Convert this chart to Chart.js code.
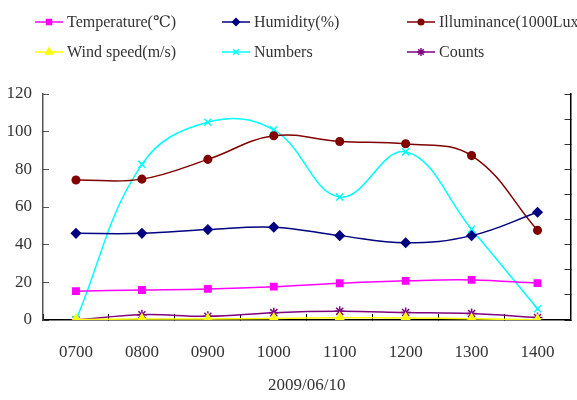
<!DOCTYPE html>
<html>
<head>
<meta charset="utf-8">
<script src="https://cdn.jsdelivr.net/npm/chart.js@4/dist/chart.umd.min.js"></script>
<style>
  html, body { margin: 0; padding: 0; background: #fff; }
  #wrap { width: 577px; height: 400px; }
</style>
</head>
<body>
<div id="wrap"><canvas id="chart" width="577" height="400"></canvas></div>
<script>
const HOURS = ['0700', '0800', '0900', '1000', '1100', '1200', '1300', '1400'];

const temperature = [15.3, 15.9, 16.5, 17.7, 19.5, 20.8, 21.3, 19.6];
const humidity    = [46, 46, 48, 49.3, 44.8, 41, 44.8, 57.2];
const illuminance = [74.3, 74.8, 85.3, 97.8, 94.8, 93.6, 87.3, 47.6];
const windSpeed   = [0.3, 0.5, 0.5, 0.8, 1.2, 1.1, 0.6, 0.1];
const numbers     = [0, 82.6, 105, 101, 65.3, 89.3, 48.2, 6];
const counts      = [0, 2.8, 2, 3.9, 4.6, 4, 3.4, 1.3];

const FONT = '"Liberation Serif", "DejaVu Serif", serif';
const TEXT = '#333';

const SERIES = [
  { label: 'Temperature(℃)',       data: temperature, color: '#ff00ff', style: 'rect',     r: 4.5 },
  { label: 'Humidity(%)',          data: humidity,    color: '#000080', style: 'rectRot',  r: 4.5 },
  { label: 'Illuminance(1000Lux)', data: illuminance, color: '#800000', style: 'circle',   r: 3.8 },
  { label: 'Wind speed(m/s)',      data: windSpeed,   color: '#ffff00', style: 'triangle', r: 5 },
  { label: 'Numbers',              data: numbers,     color: '#00ffff', style: 'crossRot', r: 5 },
  { label: 'Counts',               data: counts,      color: '#800080', style: 'star',     r: 5 },
];

// legend laid out as a 3 x 2 grid, drawn by hand in the top padding
const LEGEND_X = [35, 222, 407];
const LEGEND_Y = [22, 52];

const gridLegend = {
  id: 'gridLegend',
  afterDraw(chart) {
    const ctx = chart.ctx;
    ctx.save();
    SERIES.forEach((s, i) => {
      const x = LEGEND_X[i % 3];
      const y = LEGEND_Y[Math.floor(i / 3)];
      ctx.strokeStyle = s.color;
      ctx.fillStyle = s.color;
      ctx.lineWidth = 1.5;
      ctx.beginPath();
      ctx.moveTo(x, y);
      ctx.lineTo(x + 28, y);
      ctx.stroke();
      Chart.helpers.drawPoint(ctx, { pointStyle: s.style, radius: s.r - 1, rotation: 0, borderWidth: 1.5 }, x + 14, y);
      ctx.fillStyle = TEXT;
      ctx.font = '16px ' + FONT;
      ctx.textBaseline = 'middle';
      ctx.textAlign = 'left';
      ctx.fillText(s.label, x + 32, y + 1);
    });
    ctx.restore();
  }
};

new Chart(document.getElementById('chart'), {
  type: 'line',
  data: {
    labels: HOURS,
    datasets: SERIES.map(s => ({
      label: s.label,
      data: s.data,
      borderColor: s.color,
      backgroundColor: s.color,
      borderWidth: 1.5,
      tension: 0.4,
      pointStyle: s.style,
      pointRadius: s.r,
      pointBorderWidth: 1.5,
      fill: false,
      yAxisID: 'y',
    }))
  },
  options: {
    responsive: false,
    animation: false,
    layout: { padding: { top: 94, left: 0, right: 0, bottom: 0 } },
    plugins: {
      legend: { display: false },
      tooltip: { enabled: false },
    },
    scales: {
      x: {
        offset: true,
        border: { color: '#000', width: 1.5 },
        grid: { offset: true, drawOnChartArea: false, tickLength: -6, color: '#000' },
        ticks: { color: TEXT, font: { family: FONT, size: 17 }, padding: 28 },
        title: { display: true, text: '2009/06/10', color: TEXT, font: { family: FONT, size: 17 }, padding: { top: 0, bottom: 4 } },
        afterFit(scale) {
          scale.height = 80;
          // the big label padding should not eat horizontal room
          scale.paddingLeft = 0;
          scale.paddingRight = 0;
        },
      },
      y: {
        min: 0, max: 120,
        border: { color: '#555', width: 1.5 },
        grid: { drawOnChartArea: false, tickLength: -6, color: '#555' },
        ticks: { stepSize: 20, color: TEXT, font: { family: FONT, size: 17 }, padding: 17 },
        afterFit(scale) { scale.width = 43; },
      },
      y2: {
        position: 'right',
        min: 0, max: 9,
        border: { color: '#000', width: 1.5 },
        grid: { drawOnChartArea: false, tickLength: -6, color: '#333' },
        ticks: { stepSize: 1, display: false },
        afterFit(scale) { scale.width = 2; },
      },
    },
  },
  plugins: [gridLegend],
});
</script>
</body>
</html>
